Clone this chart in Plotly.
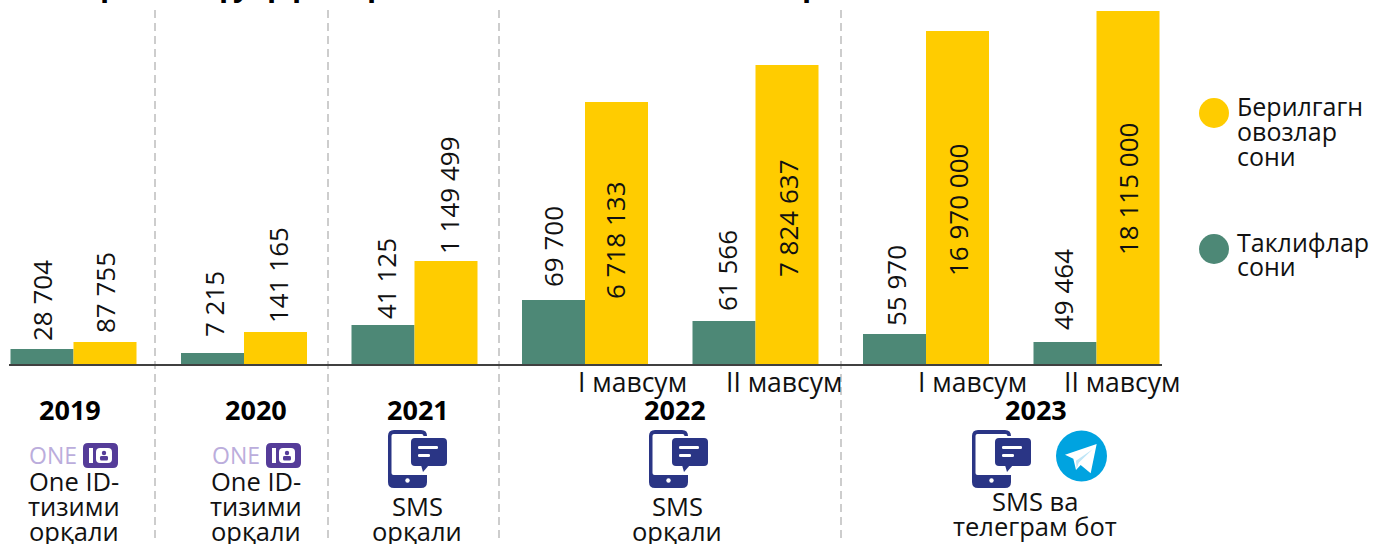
import plotly.graph_objects as go

W, H = 1373, 544
periods = ["2019", "2020", "2021", "2022 I", "2022 II", "2023 I", "2023 II"]
proposals = [28704, 7215, 41125, 69700, 61566, 55970, 49464]
votes = [87755, 141165, 1149499, 6718133, 7824637, 16970000, 18115000]
# The reference's bars are not proportional to their labels: drawn heights
proposal_heights = [15, 11, 39, 64, 43, 30, 22]
vote_heights = [22, 32, 103, 262, 299, 333, 353]
legend_votes = ["Берилгагн", "овозлар", "сони"]
legend_props = ["Таклифлар", "сони"]
seasons = ["I мавсум", "II мавсум", "I мавсум", "II мавсум"]
years = ["2019", "2020", "2021", "2022", "2023"]

TEAL, GOLD, NAVY, PURPLE = "#4D8876", "#FFCC00", "#2A3585", "#553C99"
FONT = "Open Sans"

def px(x): return x / W
def py(y): return 1 - y / H
def fmt(v): return f"{v:,}".replace(",", " ")

def path(points, close=True):
    s = " ".join(("M" if i == 0 else "L") + f"{px(x):.5f},{py(y):.5f}" for i, (x, y) in enumerate(points))
    return s + (" Z" if close else "")

def rrect(x0, y0, x1, y1, r):
    c = lambda x, y: f"{px(x):.5f},{py(y):.5f}"
    return (f"M{c(x0+r,y0)} L{c(x1-r,y0)} Q{c(x1,y0)} {c(x1,y0+r)} L{c(x1,y1-r)} Q{c(x1,y1)} {c(x1-r,y1)} "
            f"L{c(x0+r,y1)} Q{c(x0,y1)} {c(x0,y1-r)} L{c(x0,y0+r)} Q{c(x0,y0)} {c(x0+r,y0)} Z")

shapes, notes = [], []

def fill(p, color):
    shapes.append(dict(type="path", xref="paper", yref="paper", path=p, fillcolor=color, line=dict(width=0), layer="above"))

def disc(cx, cy, r, color):
    shapes.append(dict(type="circle", xref="paper", yref="paper", x0=px(cx-r), x1=px(cx+r), y0=py(cy+r), y1=py(cy-r),
                       fillcolor=color, line=dict(width=0), layer="above"))

def text(s, x, y, size=25.5, bold=False, color="#111111", anchor="center", angle=0):
    notes.append(dict(text=f"<b>{s}</b>" if bold else s, x=px(x), y=py(y), xref="paper", yref="paper", showarrow=False,
                      xanchor=anchor, yanchor="middle", textangle=angle, font=dict(family=FONT, size=size, color=color)))

def phone(x, y):
    fill(rrect(x, y, x+39, y+58, 6), NAVY)
    fill(rrect(x+3.5, y+4, x+35.5, y+45, 2), "white")
    fill(rrect(x+21, y+6, x+60, y+39, 4), "white")
    fill(path([(x+34, y+38), (x+40, y+38), (x+40, y+45), (x+34, y+45)]), "white")
    fill(rrect(x+23, y+8, x+59, y+36, 4), NAVY)
    fill(path([(x+33, y+35), (x+41, y+35), (x+35, y+42)]), NAVY)
    fill(rrect(x+30, y+16, x+50, y+19, 1.3), "white")
    fill(rrect(x+30, y+24, x+42, y+27, 1.3), "white")
    disc(x+19.5, y+50.5, 2.2, "white")

def oneid(ox, bx):
    text("ONE", ox, 454.5, size=23, color="#BBADDC")
    fill(rrect(bx, 443, bx+35, 468, 5), PURPLE)
    fill(path([(bx+6, 448), (bx+10, 448), (bx+10, 463), (bx+6, 463)]), "white")
    fill(rrect(bx+13, 448, bx+29, 463, 4), "white")
    disc(bx+21, 453, 2.2, PURPLE)
    fill(rrect(bx+17, 456, bx+25, 460.5, 1.5), PURPLE)

# separators
for x in [155, 328, 499, 841]:
    shapes.append(dict(type="line", xref="paper", yref="paper", x0=px(x), x1=px(x), y0=py(10), y1=py(540),
                       line=dict(color="#BDBDBD", width=1.5, dash="8px,5px"), layer="below"))

# clipped title: only the descenders stay on the page
for ch, x in [("р", 98), ("р", 217), ("у", 231), ("р", 265), ("р", 290), ("р", 365), ("р", 800)]:
    text(ch, x, -16, size=30, bold=True, color="#000000", anchor="left")

# value labels (centres)
prop_pos = [(42, 301), (214, 304), (386, 279), (553, 247), (727, 271), (896, 285), (1063, 290)]
vote_pos = [(105, 293), (278, 275), (449, 195), (615, 240), (788, 218), (958, 210), (1128, 189)]
for v, (x, y) in zip(proposals, prop_pos):
    text(fmt(v), x, y, size=26, angle=-90)
for v, (x, y) in zip(votes, vote_pos):
    text(fmt(v), x, y, size=26, angle=-90)

for s, x in zip(seasons, [632, 784, 972, 1122]):
    text(s, x, 382, size=26.5)
for s, x in zip(years, [70, 256, 418, 675, 1036]):
    text(s, x, 409, size=27, bold=True, color="#000000")

for x in (74, 256):
    text("One ID-", x, 481); text("тизими", x, 506); text("орқали", x, 531)
for x, y0 in ((417, 506), (677, 506)):
    text("SMS", x, y0); text("орқали", x, y0+25)
text("SMS ва", 1035, 501); text("телеграм бот", 1035, 526)

oneid(53, 83); oneid(236, 266)
phone(388, 430); phone(649, 430); phone(972, 430)

# telegram
disc(1081.5, 456, 25.5, "#00A3E0")
tx, ty = 1040, 420
tg = lambda a, b: (tx + a/3, ty + b/3)
fill(path([tg(75, 104), tg(170, 72), tg(152, 160), tg(122, 135), tg(108, 150), tg(100, 116)]), "white")
fill(path([tg(108, 122), tg(158, 88), tg(116, 128), tg(110, 146)]), "#BFE6F7")

# legend
disc(1214, 113, 15, GOLD); disc(1214, 249, 15, TEAL)
for s, y in zip(legend_votes, [106, 131, 156]):
    text(s, 1235, y, size=25, anchor="left")
for s, y in zip(legend_props, [242, 266]):
    text(s, 1235, y, size=25, anchor="left")

fig = go.Figure([
    go.Bar(x=periods, y=proposal_heights, name="Таклифлар сони", marker=dict(color=TEAL, line=dict(width=0))),
    go.Bar(x=periods, y=vote_heights, name="Берилгагн овозлар сони", marker=dict(color=GOLD, line=dict(width=0))),
])
unit = 170.5
fig.update_layout(
    width=W, height=H, autosize=False, margin=dict(l=0, r=0, t=0, b=0), showlegend=False,
    paper_bgcolor="white", plot_bgcolor="white", barmode="group", bargap=1-126/unit, bargroupgap=0,
    xaxis=dict(domain=[px(9), px(1162)], range=[(9-73.5)/unit, (1162-73.5)/unit], showgrid=False, zeroline=False,
               showticklabels=False, ticks="", showline=True, linecolor="#404040", linewidth=2),
    yaxis=dict(domain=[py(364), 1], range=[0, 364], visible=False),
    shapes=shapes, annotations=notes,
)
fig.write_html("out.html", config=dict(displayModeBar=False), post_script="document.body.style.margin='0';document.body.style.overflow='hidden';")
